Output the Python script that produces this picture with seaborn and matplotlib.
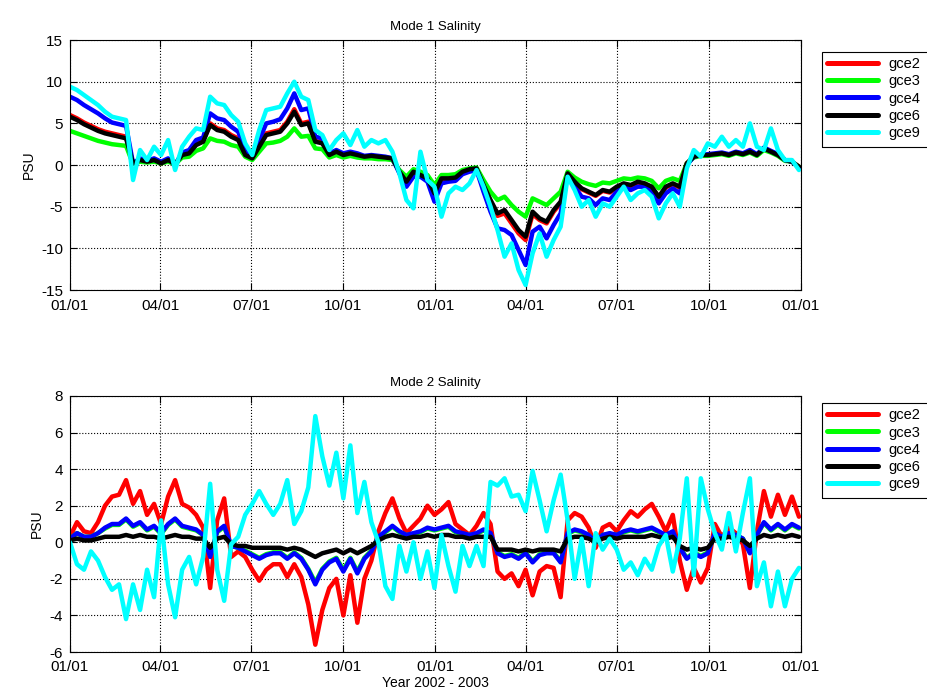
import pandas as pd
import matplotlib.pyplot as plt
import matplotlib.dates as mdates
from matplotlib.lines import Line2D
from matplotlib.patches import Rectangle
import seaborn as sns

# amostras semanais, jan/2002 a dez/2003
datas = pd.date_range("2002-01-01", periods=105, freq="7D")
sensores = ["gce2", "gce3", "gce4", "gce6", "gce9"]

# ---- Modo 1 (PSU) ----
m1_gce2 = [6.0, 5.6, 5.1, 4.7, 4.3, 4.0, 3.8, 3.6, 3.4, 0.2,
           0.6, 0.4, 0.6, 0.2, 0.6, 0.1, 1.2, 1.5, 2.5, 2.9,
           5.0, 4.4, 4.2, 3.6, 3.2, 1.3, 0.8, 2.3, 3.8, 4.0,
           4.2, 5.2, 6.7, 5.0, 5.2, 2.9, 2.7, 1.2, 1.6, 1.2,
           1.4, 1.2, 1.0, 1.1, 1.0, 0.9, 0.8, -0.8, -2.1, -0.9,
           -1.2, -1.7, -3.6, -1.7, -1.7, -1.6, -0.8, -0.5, -0.4, -2.5,
           -4.4, -6.1, -5.8, -7.0, -8.2, -9.0, -5.9, -6.6, -7.0, -5.6,
           -4.6, -1.0, -2.1, -2.9, -3.3, -3.7, -3.1, -3.3, -2.7, -2.3,
           -2.5, -2.1, -2.3, -2.7, -3.9, -2.7, -2.3, -2.7, 0.2, 1.0,
           1.2, 1.2, 1.3, 1.4, 1.2, 1.5, 1.3, 1.6, 1.2, 2.0,
           1.6, 1.2, 0.6, 0.4, -0.2]
m1_gce3 = [4.1, 3.8, 3.5, 3.2, 2.9, 2.7, 2.5, 2.4, 2.3, 0.1,
           0.4, 0.3, 0.4, 0.2, 0.4, 0.1, 0.9, 1.0, 1.7, 2.0,
           3.2, 2.9, 2.8, 2.4, 2.2, 1.0, 0.6, 1.6, 2.6, 2.7,
           2.9, 3.4, 4.4, 3.4, 3.5, 2.0, 1.9, 0.9, 1.2, 0.9,
           1.1, 0.9, 0.8, 0.8, 0.7, 0.7, 0.6, -0.6, -1.4, -0.5,
           -0.8, -1.2, -2.4, -1.2, -1.2, -1.1, -0.6, -0.4, -0.3, -1.8,
           -3.2, -4.2, -3.8, -4.8, -5.6, -6.2, -4.0, -4.4, -4.8, -4.0,
           -3.2, -0.8, -1.5, -2.0, -2.3, -2.5, -2.1, -2.2, -1.9, -1.6,
           -1.7, -1.5, -1.6, -1.9, -2.8, -1.9, -1.6, -1.9, 0.2, 0.9,
           1.1, 1.1, 1.2, 1.3, 1.1, 1.4, 1.2, 1.5, 1.1, 1.8,
           1.5, 1.1, 0.5, 0.4, -0.2]
m1_gce4 = [8.2, 7.8, 7.2, 6.7, 6.2, 5.6, 5.1, 4.9, 4.7, 0.2,
           0.8, 0.5, 0.8, 0.4, 0.8, 0.0, 1.5, 1.8, 3.0, 3.3,
           6.2, 5.6, 5.4, 4.6, 4.0, 1.8, 1.0, 3.0, 5.0, 5.2,
           5.5, 6.8, 8.6, 6.6, 6.8, 3.4, 3.2, 1.4, 1.8, 1.4,
           1.6, 1.4, 1.1, 1.2, 1.1, 1.0, 0.8, -1.0, -2.6, -1.4,
           -1.4, -2.0, -4.4, -2.2, -2.0, -1.9, -1.1, -0.8, -0.6, -3.2,
           -5.6, -7.6, -7.8, -8.4, -10.2, -12.0, -8.0, -7.4, -8.8, -7.2,
           -5.8, -1.2, -2.6, -3.8, -4.0, -4.8, -4.0, -4.2, -3.2, -2.6,
           -3.0, -2.6, -2.6, -3.2, -4.6, -3.4, -2.8, -3.4, 0.0, 1.0,
           1.2, 1.3, 1.4, 1.5, 1.3, 1.6, 1.4, 1.8, 1.3, 2.1,
           1.7, 1.3, 0.6, 0.4, -0.3]
m1_gce6 = [5.8, 5.4, 4.9, 4.5, 4.1, 3.8, 3.6, 3.4, 3.2, 0.2,
           0.6, 0.4, 0.6, 0.2, 0.6, 0.1, 1.2, 1.4, 2.4, 2.8,
           4.8, 4.2, 4.0, 3.4, 3.0, 1.2, 0.8, 2.2, 3.6, 3.8,
           4.0, 5.0, 6.4, 4.8, 5.0, 2.8, 2.6, 1.2, 1.6, 1.2,
           1.4, 1.2, 1.0, 1.1, 1.0, 0.9, 0.8, -0.8, -2.0, -0.8,
           -1.2, -1.6, -3.4, -1.6, -1.6, -1.5, -0.8, -0.5, -0.4, -2.4,
           -4.2, -5.8, -5.4, -6.6, -7.8, -8.6, -5.6, -6.4, -6.8, -5.4,
           -4.4, -1.0, -2.0, -2.8, -3.2, -3.6, -3.0, -3.2, -2.6, -2.2,
           -2.4, -2.0, -2.2, -2.6, -3.8, -2.6, -2.2, -2.6, 0.2, 1.0,
           1.2, 1.2, 1.3, 1.4, 1.2, 1.5, 1.3, 1.6, 1.2, 2.0,
           1.6, 1.2, 0.6, 0.4, -0.2]
m1_gce9 = [9.4, 9.0, 8.4, 7.8, 7.2, 6.4, 5.8, 5.6, 5.4, -1.8,
           1.8, 0.6, 2.2, 1.2, 3.0, -0.6, 2.2, 3.4, 4.4, 4.2,
           8.2, 7.4, 7.2, 6.0, 5.2, 2.6, 1.2, 4.2, 6.6, 6.8,
           7.0, 8.6, 10.0, 8.2, 7.8, 4.2, 3.6, 1.8, 3.0, 3.8,
           2.4, 4.2, 2.2, 3.0, 2.6, 3.0, 1.6, -1.0, -4.2, -5.2,
           1.6, -1.8, -2.6, -6.2, -3.4, -2.6, -3.0, -2.2, -0.6, -2.6,
           -5.0, -7.8, -11.0, -9.4, -12.6, -14.4, -10.6, -8.2, -11.0, -9.0,
           -7.4, -1.4, -3.0, -5.0, -4.2, -6.2, -4.6, -5.0, -3.8, -2.6,
           -4.2, -3.4, -3.0, -3.8, -6.4, -4.6, -3.4, -5.0, -0.4, 1.8,
           1.0, 2.6, 2.2, 3.4, 2.2, 3.0, 2.2, 5.0, 2.2, 1.8,
           4.4, 1.8, 0.6, 0.6, -0.6]

# ---- Modo 2 (PSU) ----
m2_gce2 = [0.3, 1.1, 0.6, 0.5, 1.1, 2.0, 2.5, 2.6, 3.4, 2.1,
           2.8, 1.5, 2.1, 1.0, 2.5, 3.4, 2.1, 1.9, 1.5, 0.8,
           -2.5, 1.2, 2.4, -0.8, -0.5, -0.8, -1.5, -2.1, -1.5, -1.2,
           -1.2, -1.9, -1.2, -1.9, -3.4, -5.6, -3.7, -2.5, -2.0, -4.0,
           -1.8, -4.4, -2.0, -1.0, 0.6, 1.6, 2.4, 1.3, 0.5, 0.9,
           1.3, 2.0, 1.5, 1.8, 2.2, 1.0, 0.7, 0.4, 0.9, 1.6,
           1.0, -1.6, -2.0, -1.7, -2.4, -1.5, -2.9, -1.6, -1.3, -1.4,
           -3.0, 1.2, 1.6, 1.4, 0.8, -0.3, 0.8, 1.0, 0.6, 1.2,
           1.7, 1.4, 1.8, 2.1, 1.4, 0.6, 1.5, -1.0, -2.6, -1.4,
           -2.2, -1.4, 1.0, 0.3, 0.8, 0.5, -0.1, -2.5, 0.6, 2.8,
           1.4, 2.6, 1.5, 2.5, 1.4]
m2_gce3 = [0.2, 0.5, 0.3, 0.3, 0.5, 0.75, 0.95, 0.95, 1.25, 0.85,
           1.05, 0.65, 0.85, 0.45, 0.95, 1.25, 0.85, 0.75, 0.65, 0.4,
           -0.75, 0.55, 0.85, -0.2, -0.3, -0.45, -0.65, -0.85, -0.65, -0.55,
           -0.55, -0.85, -0.55, -0.85, -1.45, -2.2, -1.45, -1.05, -0.85, -1.5,
           -0.85, -1.6, -0.85, -0.45, 0.3, 0.55, 0.85, 0.55, 0.4, 0.45,
           0.55, 0.75, 0.65, 0.75, 0.85, 0.55, 0.45, 0.4, 0.45, 0.65,
           0.45, -0.55, -0.75, -0.65, -0.85, -0.55, -1.05, -0.65, -0.55, -0.55,
           -1.05, 0.45, 0.65, 0.55, 0.4, 0.0, 0.4, 0.45, 0.4, 0.55,
           0.65, 0.55, 0.65, 0.75, 0.55, 0.4, 0.55, -0.3, -0.85, -0.55,
           -0.75, -0.55, 0.45, 0.3, 0.45, 0.4, 0.2, -0.55, 0.4, 1.05,
           0.65, 0.95, 0.65, 0.95, 0.75]
m2_gce4 = [0.2, 0.5, 0.3, 0.3, 0.5, 0.8, 1.0, 1.0, 1.3, 0.9,
           1.1, 0.7, 0.9, 0.5, 1.0, 1.3, 0.9, 0.8, 0.7, 0.4,
           -0.8, 0.6, 0.9, -0.2, -0.3, -0.5, -0.7, -0.9, -0.7, -0.6,
           -0.6, -0.9, -0.6, -0.9, -1.5, -2.3, -1.5, -1.1, -0.9, -1.6,
           -0.9, -1.7, -0.9, -0.5, 0.3, 0.6, 0.9, 0.6, 0.4, 0.5,
           0.6, 0.8, 0.7, 0.8, 0.9, 0.6, 0.5, 0.4, 0.5, 0.7,
           0.5, -0.6, -0.8, -0.7, -0.9, -0.6, -1.1, -0.7, -0.6, -0.6,
           -1.1, 0.5, 0.7, 0.6, 0.4, 0.0, 0.4, 0.5, 0.4, 0.6,
           0.7, 0.6, 0.7, 0.8, 0.6, 0.4, 0.6, -0.3, -0.9, -0.6,
           -0.8, -0.6, 0.5, 0.3, 0.5, 0.4, 0.2, -0.6, 0.4, 1.1,
           0.7, 1.0, 0.7, 1.0, 0.8]
m2_gce6 = [0.1, 0.2, 0.1, 0.1, 0.2, 0.3, 0.3, 0.3, 0.4, 0.3,
           0.4, 0.3, 0.3, 0.2, 0.3, 0.4, 0.3, 0.3, 0.2, 0.2,
           -0.3, 0.2, 0.3, -0.1, -0.2, -0.2, -0.3, -0.3, -0.3, -0.3,
           -0.3, -0.4, -0.3, -0.4, -0.6, -0.8, -0.6, -0.5, -0.4, -0.6,
           -0.4, -0.6, -0.4, -0.2, 0.1, 0.3, 0.4, 0.3, 0.2, 0.3,
           0.3, 0.4, 0.3, 0.4, 0.4, 0.3, 0.3, 0.2, 0.3, 0.3,
           0.3, -0.4, -0.4, -0.4, -0.5, -0.4, -0.5, -0.4, -0.4, -0.4,
           -0.5, 0.2, 0.3, 0.3, 0.2, 0.0, 0.2, 0.3, 0.2, 0.3,
           0.3, 0.3, 0.3, 0.4, 0.3, 0.2, 0.3, -0.2, -0.4, -0.3,
           -0.4, -0.3, 0.2, 0.2, 0.3, 0.2, 0.1, -0.2, 0.2, 0.4,
           0.3, 0.4, 0.3, 0.4, 0.3]
m2_gce9 = [0.0, -1.2, -1.5, -0.5, -1.0, -1.9, -2.6, -2.3, -4.2, -2.3,
           -3.7, -1.5, -3.0, 1.2, -2.3, -4.1, -1.5, -0.8, -2.3, -0.8,
           3.2, -1.5, -3.2, -0.1, 0.3, 1.5, 2.1, 2.8, 2.1, 1.5,
           2.1, 3.4, 1.0, 1.7, 3.0, 6.9, 4.7, 3.1, 4.9, 2.4,
           5.3, 1.6, 3.3, 1.1, 0.0, -2.4, -3.1, -0.2, -1.6, 0.0,
           -2.0, -0.5, -2.5, 0.4, -1.3, -2.7, -0.2, -1.3, -0.2, -1.3,
           3.3, 3.1, 3.5, 2.5, 2.6, 1.7, 3.9, 2.3, 0.6, 2.3,
           3.7, 1.2, -2.0, 0.2, -2.4, 0.5, -0.4, 0.2, -0.4, -1.5,
           -1.1, -1.8, -0.9, -1.5, -0.2, 0.4, -1.6, 0.2, 3.5, -1.8,
           3.5, 1.8, 0.5, -0.4, 1.6, -0.5, 1.6, 3.5, -2.4, -1.1,
           -3.5, -1.6, -3.5, -2.0, -1.4]

cores = {"gce2": "#ff0000", "gce3": "#00ff00", "gce4": "#0000ff",
         "gce6": "#000000", "gce9": "#00ffff"}

modo1 = pd.DataFrame({"data": datas, "gce2": m1_gce2, "gce3": m1_gce3,
                      "gce4": m1_gce4, "gce6": m1_gce6, "gce9": m1_gce9})
modo2 = pd.DataFrame({"data": datas, "gce2": m2_gce2, "gce3": m2_gce3,
                      "gce4": m2_gce4, "gce6": m2_gce6, "gce9": m2_gce9})
modo1 = modo1.melt(id_vars="data", var_name="sensor", value_name="psu")
modo2 = modo2.melt(id_vars="data", var_name="sensor", value_name="psu")

sns.set_style("ticks", {"axes.edgecolor": "black", "text.color": "black",
                        "xtick.color": "black", "ytick.color": "black",
                        "axes.labelcolor": "black"})
plt.rcParams["font.family"] = ["Liberation Sans", "DejaVu Sans"]
plt.rcParams["axes.unicode_minus"] = False

fig = plt.figure(figsize=(9.28, 6.94), dpi=100)
ax1 = fig.add_axes([0.0754, 0.5821, 0.7877, 0.3602])
ax2 = fig.add_axes([0.0754, 0.0605, 0.7877, 0.3689])

marcas = pd.to_datetime(["2002-01-01", "2002-04-01", "2002-07-01", "2002-10-01",
                         "2003-01-01", "2003-04-01", "2003-07-01", "2003-10-01",
                         "2004-01-01"])

# (eixo, dados, titulo, limites y, ticks y, topo da legenda, pad x)
paineis = [
    (ax1, modo1, "Mode 1 Salinity", (-15, 15), range(-15, 16, 5), 0.925, 6.5),
    (ax2, modo2, "Mode 2 Salinity", (-6, 8), range(-6, 9, 2), 0.419, 5.5),
]

for ax, df, titulo, ylim, yticks, topo_leg, pad_x in paineis:
    sns.lineplot(data=df, x="data", y="psu", hue="sensor", hue_order=sensores,
                 palette=cores, linewidth=3.2, legend=False, ax=ax)
    ax.set_xlim(pd.Timestamp("2002-01-01"), pd.Timestamp("2004-01-01"))
    ax.set_xticks(marcas)
    ax.xaxis.set_major_formatter(mdates.DateFormatter("%m/%d"))
    ax.set_ylim(*ylim)
    ax.set_yticks(list(yticks))
    ax.grid(True, linestyle=":", color="black", linewidth=0.8)
    ax.tick_params(direction="in", top=True, right=True, length=5,
                   width=0.8, labelsize=11)
    ax.tick_params(axis="x", pad=pad_x)
    ax.tick_params(axis="y", pad=5)
    for sp in ax.spines.values():
        sp.set_linewidth(0.8)
    ax.set_title(titulo, fontsize=9.5, pad=7)
    ax.set_ylabel("PSU", fontsize=10, labelpad=4)
    ax.set_xlabel("")

    alcas = [Line2D([], [], color=cores[s], linewidth=3.6) for s in sensores]
    ax.legend(alcas, sensores, loc="upper left",
              bbox_to_anchor=(0.8858, topo_leg), bbox_transform=fig.transFigure,
              frameon=False, fontsize=10.5, handlelength=3.5, handletextpad=0.7,
              labelspacing=0.22, borderaxespad=0, borderpad=0.35)
    # moldura da legenda: passa da borda direita, como no original
    fig.add_artist(Rectangle((0.8858, topo_leg - 0.137), 0.2, 0.137,
                             transform=fig.transFigure, fill=False,
                             edgecolor="black", linewidth=0.8))

ax2.set_xlabel("Year 2002 - 2003", fontsize=10, labelpad=2)

plt.savefig("out.png", dpi=100)
